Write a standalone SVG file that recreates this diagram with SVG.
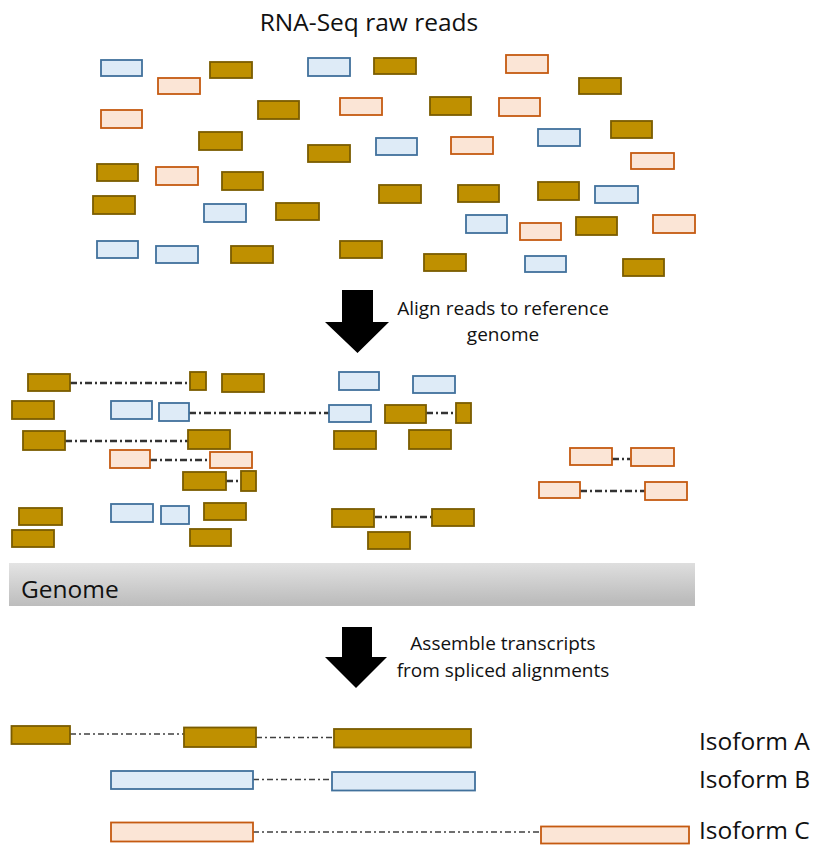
<svg xmlns="http://www.w3.org/2000/svg" width="814" height="845" viewBox="0 0 814 845">
<style>
.g{fill:#BF9000;stroke:#7A5C00;stroke-width:1.8}
.b{fill:#DEEBF7;stroke:#41719C;stroke-width:1.8}
.o{fill:#FBE5D6;stroke:#C55A11;stroke-width:1.8}
.t{font-family:"Open Sans","Noto Sans","Liberation Sans",sans-serif;fill:#111}
.c{fill:none;stroke:#333;stroke-width:2.3;stroke-dasharray:7 3 2 3}
.c2{fill:none;stroke:#404040;stroke-width:1.5;stroke-dasharray:6 3 2 3}
.arrow{fill:#000}
</style>
<defs>
<linearGradient id="gen" x1="0" y1="0" x2="0.15" y2="1">
<stop offset="0" stop-color="#e4e4e4"/>
<stop offset="1" stop-color="#bcbcbc"/>
</linearGradient>
</defs>
<rect width="814" height="845" fill="#fff"/>

<g id="title"><text class="t" x="369" y="31" font-size="24.5" text-anchor="middle">RNA-Seq raw reads</text></g>

<g id="raw-reads">
<g id="rg1"><rect class="g" x="210" y="62" width="42" height="16"/></g>
<g id="rg2"><rect class="g" x="374" y="58" width="42" height="16"/></g>
<g id="rg3"><rect class="g" x="258" y="101" width="41" height="18"/></g>
<g id="rg4"><rect class="g" x="430" y="97" width="41" height="18"/></g>
<g id="rg5"><rect class="g" x="579" y="78" width="42" height="16"/></g>
<g id="rg6"><rect class="g" x="199" y="132" width="43" height="18"/></g>
<g id="rg7"><rect class="g" x="308" y="145" width="42" height="17"/></g>
<g id="rg8"><rect class="g" x="611" y="121" width="41" height="17"/></g>
<g id="rg9"><rect class="g" x="97" y="164" width="41" height="17"/></g>
<g id="rg10"><rect class="g" x="222" y="172" width="41" height="18"/></g>
<g id="rg11"><rect class="g" x="379" y="185" width="42" height="18"/></g>
<g id="rg12"><rect class="g" x="458" y="185" width="41" height="17"/></g>
<g id="rg13"><rect class="g" x="538" y="182" width="41" height="18"/></g>
<g id="rg14"><rect class="g" x="93" y="196" width="42" height="18"/></g>
<g id="rg15"><rect class="g" x="276" y="203" width="43" height="17"/></g>
<g id="rg16"><rect class="g" x="576" y="217" width="41" height="18"/></g>
<g id="rg17"><rect class="g" x="231" y="246" width="42" height="17"/></g>
<g id="rg18"><rect class="g" x="340" y="241" width="42" height="17"/></g>
<g id="rg19"><rect class="g" x="424" y="254" width="42" height="17"/></g>
<g id="rg20"><rect class="g" x="623" y="259" width="41" height="17"/></g>
<g id="rb1"><rect class="b" x="101" y="60" width="41" height="16"/></g>
<g id="rb2"><rect class="b" x="308" y="58" width="42" height="18"/></g>
<g id="rb3"><rect class="b" x="376" y="138" width="41" height="17"/></g>
<g id="rb4"><rect class="b" x="538" y="129" width="42" height="17"/></g>
<g id="rb5"><rect class="b" x="204" y="204" width="42" height="18"/></g>
<g id="rb6"><rect class="b" x="595" y="186" width="43" height="17"/></g>
<g id="rb7"><rect class="b" x="466" y="215" width="41" height="18"/></g>
<g id="rb8"><rect class="b" x="97" y="241" width="41" height="17"/></g>
<g id="rb9"><rect class="b" x="156" y="246" width="42" height="17"/></g>
<g id="rb10"><rect class="b" x="525" y="256" width="41" height="16"/></g>
<g id="ro1"><rect class="o" x="158" y="78" width="42" height="16"/></g>
<g id="ro2"><rect class="o" x="101" y="110" width="41" height="18"/></g>
<g id="ro3"><rect class="o" x="340" y="98" width="42" height="17"/></g>
<g id="ro4"><rect class="o" x="506" y="55" width="42" height="18"/></g>
<g id="ro5"><rect class="o" x="499" y="98" width="41" height="18"/></g>
<g id="ro6"><rect class="o" x="451" y="137" width="42" height="17"/></g>
<g id="ro7"><rect class="o" x="156" y="167" width="42" height="18"/></g>
<g id="ro8"><rect class="o" x="631" y="153" width="43" height="16"/></g>
<g id="ro9"><rect class="o" x="520" y="223" width="41" height="17"/></g>
<g id="ro10"><rect class="o" x="653" y="215" width="42" height="18"/></g>
</g>

<g id="arrow1"><polygon class="arrow" points="342,290 373,290 373,322 389,322 357.5,353 325,322 342,322"/></g>
<g id="label1"><text class="t" font-size="19" text-anchor="middle"><tspan x="503" y="315">Align reads to reference</tspan><tspan x="503" y="341">genome</tspan></text></g>

<g id="connectors">
<line class="c" x1="70" y1="383" x2="190" y2="383"/>
<line class="c" x1="189" y1="413" x2="329" y2="413"/>
<line class="c" x1="426" y1="413" x2="456" y2="413"/>
<line class="c" x1="65" y1="441" x2="188" y2="441"/>
<line class="c" x1="150" y1="460" x2="210" y2="460"/>
<line class="c" x1="226" y1="481" x2="241" y2="481"/>
<line class="c" x1="375" y1="517" x2="432" y2="517"/>
<line class="c" x1="612" y1="459" x2="630" y2="459"/>
<line class="c" x1="580" y1="491" x2="645" y2="491"/>
<line class="c2" x1="70" y1="734" x2="184" y2="734"/>
<line class="c2" x1="256" y1="737.5" x2="334" y2="737.5"/>
<line class="c2" x1="253" y1="779.5" x2="332" y2="779.5"/>
<line class="c2" x1="253" y1="832" x2="541" y2="832"/>
</g>

<g id="aligned-reads">
<g id="ag1"><rect class="g" x="28" y="374" width="42" height="17"/></g>
<g id="ag2"><rect class="g" x="190" y="372" width="16" height="18"/></g>
<g id="ag3"><rect class="g" x="222" y="374" width="42" height="18"/></g>
<g id="ab1"><rect class="b" x="339" y="372" width="40" height="18"/></g>
<g id="ab2"><rect class="b" x="413" y="376" width="42" height="17"/></g>
<g id="ag4"><rect class="g" x="12" y="401" width="42" height="18"/></g>
<g id="ab3"><rect class="b" x="111" y="401" width="41" height="18"/></g>
<g id="ab4"><rect class="b" x="159" y="403" width="30" height="18"/></g>
<g id="ab5"><rect class="b" x="329" y="405" width="42" height="17"/></g>
<g id="ag5"><rect class="g" x="385" y="405" width="41" height="18"/></g>
<g id="ag6"><rect class="g" x="456" y="403" width="15" height="20"/></g>
<g id="ag7"><rect class="g" x="23" y="431" width="42" height="19"/></g>
<g id="ag8"><rect class="g" x="188" y="430" width="42" height="19"/></g>
<g id="ag9"><rect class="g" x="334" y="431" width="42" height="18"/></g>
<g id="ag10"><rect class="g" x="409" y="430" width="42" height="19"/></g>
<g id="ao1"><rect class="o" x="110" y="450" width="40" height="18"/></g>
<g id="ao2"><rect class="o" x="210" y="452" width="42" height="16"/></g>
<g id="ag11"><rect class="g" x="183" y="472" width="43" height="18"/></g>
<g id="ag12"><rect class="g" x="241" y="471" width="15" height="20"/></g>
<g id="ag13"><rect class="g" x="19" y="508" width="43" height="17"/></g>
<g id="ab6"><rect class="b" x="111" y="504" width="42" height="18"/></g>
<g id="ab7"><rect class="b" x="161" y="506" width="28" height="18"/></g>
<g id="ag14"><rect class="g" x="204" y="503" width="42" height="17"/></g>
<g id="ag15"><rect class="g" x="12" y="530" width="42" height="17"/></g>
<g id="ag16"><rect class="g" x="190" y="529" width="41" height="17"/></g>
<g id="ag17"><rect class="g" x="332" y="509" width="42" height="18"/></g>
<g id="ag18"><rect class="g" x="432" y="509" width="42" height="17"/></g>
<g id="ag19"><rect class="g" x="368" y="532" width="42" height="17"/></g>
<g id="ao3"><rect class="o" x="570" y="448" width="42" height="17"/></g>
<g id="ao4"><rect class="o" x="631" y="448" width="43" height="18"/></g>
<g id="ao5"><rect class="o" x="539" y="482" width="41" height="16"/></g>
<g id="ao6"><rect class="o" x="645" y="482" width="42" height="18"/></g>
</g>

<g id="genome">
<rect x="9" y="563" width="686" height="43" fill="url(#gen)"/>
<text class="t" x="21" y="598" font-size="24.5">Genome</text>
</g>

<g id="arrow2"><polygon class="arrow" points="342,627 372,627 372,657 387,657 356,688 325,657 342,657"/></g>
<g id="label2"><text class="t" font-size="19" text-anchor="middle"><tspan x="503" y="650">Assemble transcripts</tspan><tspan x="503" y="677">from spliced alignments</tspan></text></g>

<g id="isoformA">
<rect class="g" x="11.5" y="726" width="58.5" height="18"/>
<rect class="g" x="184" y="727.5" width="72" height="19.5"/>
<rect class="g" x="334" y="729" width="137" height="18.5"/>
<text class="t" x="699" y="750" font-size="24.5">Isoform A</text>
</g>
<g id="isoformB">
<rect class="b" x="111" y="771" width="142" height="18"/>
<rect class="b" x="332" y="772" width="143" height="18.5"/>
<text class="t" x="699" y="788" font-size="24.5">Isoform B</text>
</g>
<g id="isoformC">
<rect class="o" x="111" y="822.5" width="142" height="19"/>
<rect class="o" x="541" y="826.5" width="148" height="17"/>
<text class="t" x="699" y="839" font-size="24.5">Isoform C</text>
</g>
</svg>
